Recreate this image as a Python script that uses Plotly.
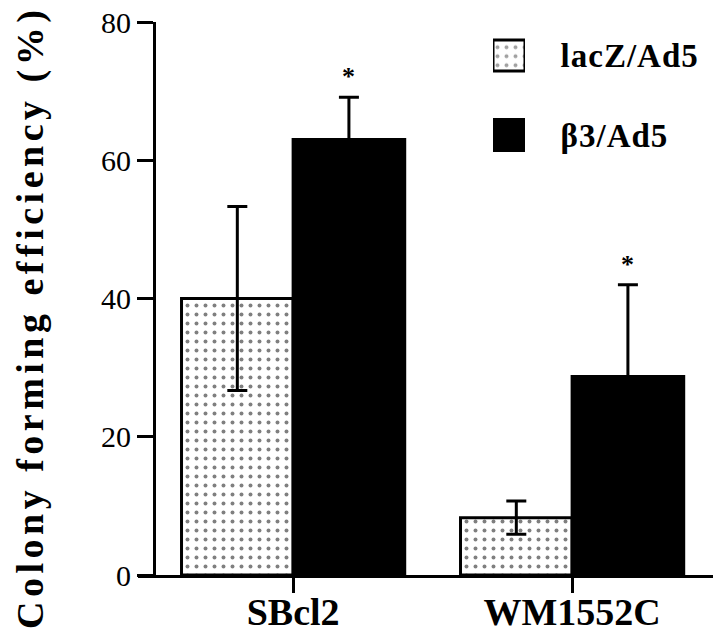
import plotly.graph_objects as go

# ---- data ----
categories = ["SBcl2", "WM1552C"]
series_names = ["lacZ/Ad5", "β3/Ad5"]
lacz_values = [40.0, 8.3]
lacz_errors = [13.3, 2.4]
b3_values = [63.0, 28.7]
b3_errors = [6.1, 13.3]
significance = ["*", "*"]
y_ticks = [0, 20, 40, 60, 80]
legend_swatch = [1, 1]

FONT = "Liberation Serif"
W, H = 720, 639
BARGAP = 0.2

dot_pattern = dict(shape=".", fgcolor="black", bgcolor="white", size=9, solidity=0.15)

fig = go.Figure()
fig.add_trace(go.Bar(
    x=categories, y=lacz_values, name=series_names[0],
    error_y=dict(type="data", array=lacz_errors, visible=True,
                 color="black", thickness=3, width=10),
    marker=dict(color="white", line=dict(color="black", width=3), pattern=dot_pattern),
    showlegend=False,
))
fig.add_trace(go.Bar(
    x=categories, y=b3_values, name=series_names[1],
    error_y=dict(type="data", array=b3_errors, visible=True,
                 color="black", thickness=3, width=10),
    marker=dict(color="black", line=dict(color="black", width=3)),
    showlegend=False,
))

# legend swatches drawn as a tiny bar subplot
fig.add_trace(go.Bar(
    x=legend_swatch, y=series_names, orientation="h",
    xaxis="x2", yaxis="y2", width=0.39,
    marker=dict(color=["white", "black"], line=dict(color="black", width=3),
                pattern=dict(shape=[".", ""], fgcolor="black", bgcolor="white",
                             size=9, solidity=0.15)),
    showlegend=False, hoverinfo="skip",
))

# significance stars above the β3 bars
bar_w = (1 - BARGAP) / 2
annotations = []
for i, s in enumerate(significance):
    annotations.append(dict(
        x=i + bar_w / 2, y=b3_values[i] + b3_errors[i], xref="x", yref="y",
        text="<b>%s</b>" % s, showarrow=False, yanchor="bottom", yshift=4,
        font=dict(family=FONT, size=26, color="black"),
    ))

annotations.append(dict(
    x=30 / W, y=1 - 318 / H, xref="paper", yref="paper",
    text='<span style="letter-spacing:4.5px"><b>Colony forming efficiency (%)</b></span>',
    textangle=-90, showarrow=False, xanchor="center", yanchor="middle",
    font=dict(family=FONT, size=38, color="black"),
))

legend_text = ['<span style="letter-spacing:1px">%s</span>' % n for n in series_names]

fig.update_layout(
    width=W, height=H,
    margin=dict(l=0, r=0, t=0, b=0, autoexpand=False),
    paper_bgcolor="white", plot_bgcolor="white",
    barmode="group", bargap=BARGAP, bargroupgap=0,
    annotations=annotations,
    xaxis=dict(
        type="category", domain=[138 / W, 713 / W], range=[-0.556, 1.505],
        showline=True, linewidth=3, linecolor="black",
        ticks="outside", ticklen=15, tickwidth=3, tickcolor="black",
        ticklabelstandoff=-14,
        tickfont=dict(family=FONT, size=38, color="black", weight="bold"),
        showgrid=False, zeroline=False, fixedrange=True, automargin=False,
    ),
    yaxis=dict(
        anchor="free", position=154 / W,
        domain=[1 - 575 / H, 1 - 22 / H], range=[0, 80],
        tickvals=y_ticks,
        showline=True, linewidth=3, linecolor="black",
        ticks="outside", ticklen=16, tickwidth=3, tickcolor="black",
        tickfont=dict(family=FONT, size=30, color="black"),
        showgrid=False, zeroline=False, fixedrange=True, automargin=False,
    ),
    xaxis2=dict(
        domain=[493 / W, 525 / W], range=[0, 1], anchor="y2",
        visible=False, fixedrange=True, automargin=False,
    ),
    yaxis2=dict(
        domain=[1 - 174.75 / H, 1 - 15.75 / H], anchor="x2",
        type="category", autorange="reversed", side="right",
        tickvals=series_names, ticktext=legend_text,
        showline=False, showgrid=False, zeroline=False,
        ticks="outside", ticklen=28, tickcolor="rgba(0,0,0,0)",
        tickfont=dict(family=FONT, size=33, color="black", weight="bold"),
        fixedrange=True, automargin=False,
    ),
)

fig.write_html(
    "out.html",
    config={"displayModeBar": False},
    post_script="document.body.style.margin='0px';document.body.style.overflow='hidden';",
)
